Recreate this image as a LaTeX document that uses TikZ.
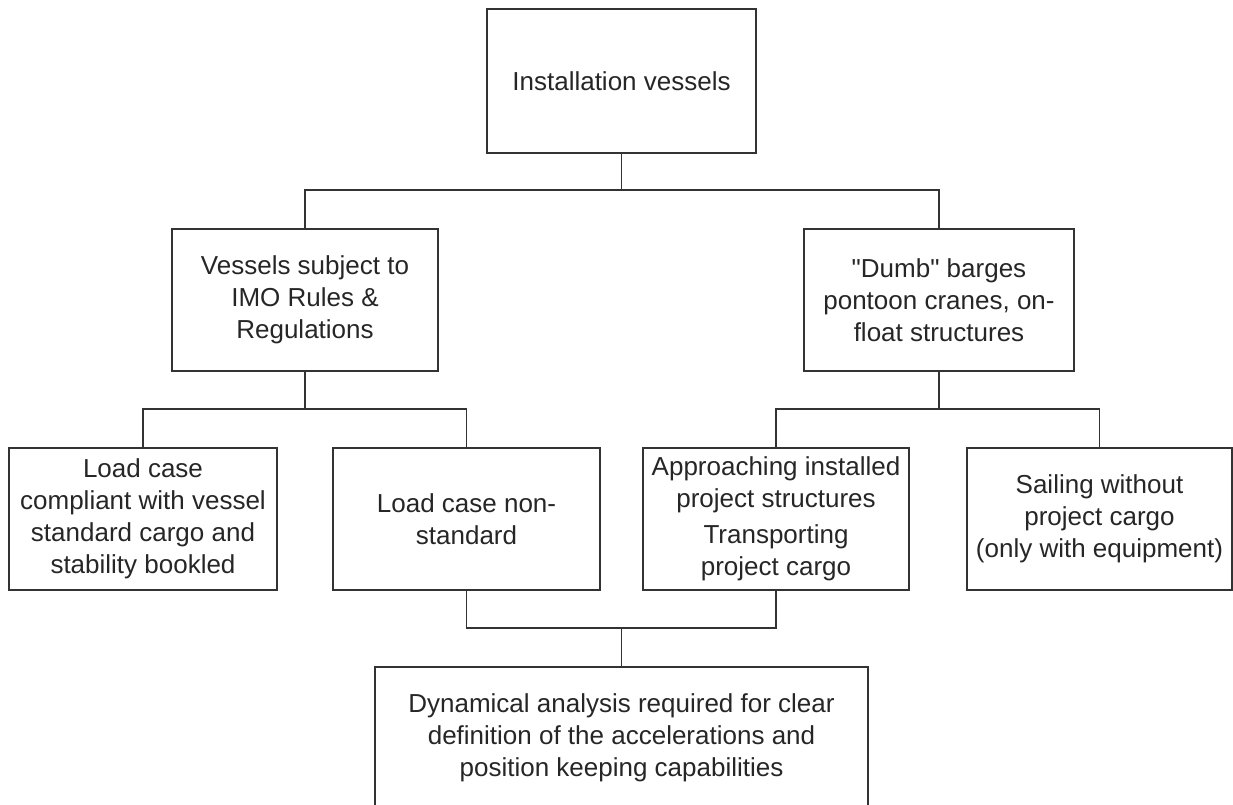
\documentclass[tikz,border=0pt]{standalone}
\usepackage{fontspec}
\setmainfont{Liberation Sans}[Ligatures=TeXOff]
\begin{document}
\begin{tikzpicture}[x=1pt,y=-1pt,
  box/.style={draw=black!80, line width=1.3pt, align=center, inner sep=0pt,
    font=\fontsize{26}{32}\selectfont, text=black!85, minimum height=142},
  link/.style={draw=black!80, line width=1.3pt}]
\useasboundingbox (0,0) rectangle (1233,805);
% top level
\node[box, minimum width=269, minimum height=144] (inst) at (621.5,81) {Installation vessels};
\node[box, minimum width=266] (imo) at (305,300) {Vessels subject to\\IMO Rules \&\\Regulations};
\node[box, minimum width=270] (dumb) at (939,300) {"Dumb" barges\\pontoon cranes, on-\\float structures};
% load cases
\node[box, minimum width=268] (std) at (143,519) {Load case\\compliant with vessel\\standard cargo and\\stability bookled};
\node[box, minimum width=267] (nonstd) at (466.5,519) {Load case non-\\standard};
\node[box, minimum width=266] (proj) at (776,519) {Approaching installed\\project structures\\[4pt]Transporting\\project cargo};
\node[box, minimum width=265] (sail) at (1099.5,519) {Sailing without\\project cargo\\(only with equipment)};
% result
\node[box, minimum width=493] (dyn) at (621.5,738) {Dynamical analysis required for clear\\definition of the accelerations and\\position keeping capabilities};
% connectors
\coordinate (j1) at (621.5,190);
\coordinate (j2) at (305,409);
\coordinate (j3) at (939,409);
\coordinate (j4) at (621.5,628);
\draw[link] (inst.south) -- (j1);
\draw[link] (imo.north) |- (j1) -| (dumb.north);
\draw[link] (imo.south) -- (j2);
\draw[link] (std.north) |- (j2) -| (nonstd.north);
\draw[link] (dumb.south) -- (j3);
\draw[link] (proj.north) |- (j3) -| (sail.north);
\draw[link] (nonstd.south) |- (j4) -| (proj.south);
\draw[link] (j4) -- (dyn.north);
\end{tikzpicture}
\end{document}
